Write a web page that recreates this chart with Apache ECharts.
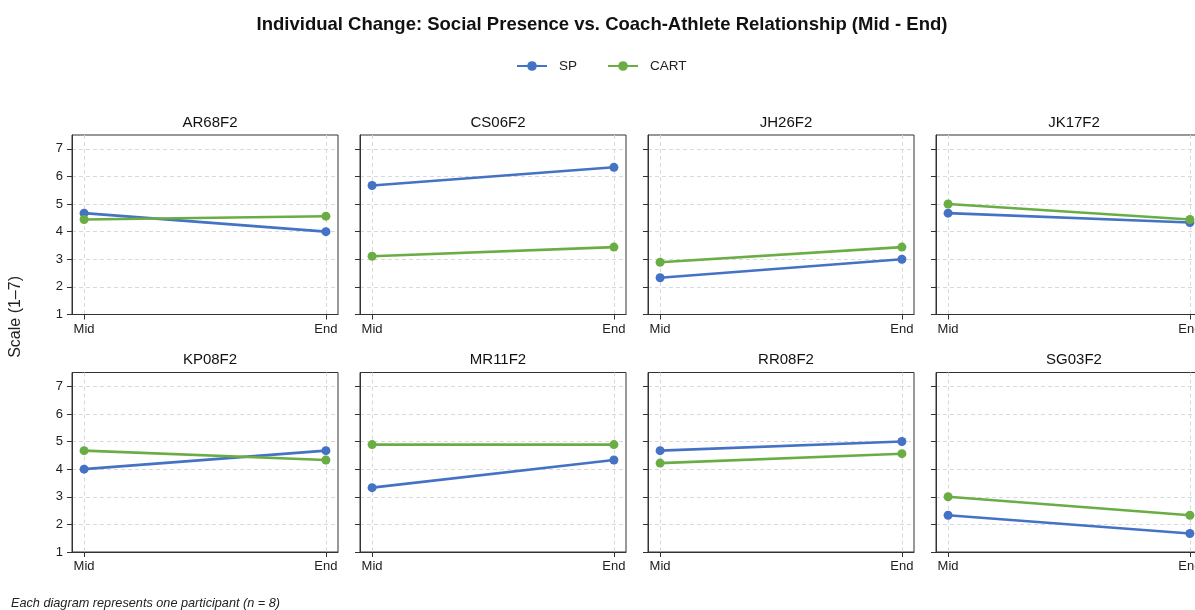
<!DOCTYPE html>
<html>
<head>
<meta charset="utf-8">
<script src="https://cdn.jsdelivr.net/npm/echarts@6/dist/echarts.min.js"></script>
<style>
html,body{margin:0;padding:0;background:#fff;overflow:hidden;width:1195px;height:610px;}
#chart{width:1225px;height:610px;}
</style>
</head>
<body>
<div id="chart"></div>
<script>
const participants = ['AR68F2','CS06F2','JH26F2','JK17F2','KP08F2','MR11F2','RR08F2','SG03F2'];
const stages = ['Mid','End'];
const spMid   = [4.67, 5.67, 2.33, 4.67, 4.00, 3.33, 4.67, 2.33];
const spEnd   = [4.00, 6.33, 3.00, 4.33, 4.67, 4.33, 5.00, 1.67];
const cartMid = [4.44, 3.11, 2.89, 5.00, 4.67, 4.89, 4.22, 3.00];
const cartEnd = [4.56, 3.44, 3.44, 4.44, 4.33, 4.89, 4.56, 2.33];
const yTicks = [1, 2, 3, 4, 5, 6, 7];

const SP_COLOR = '#4472C4';
const CART_COLOR = '#6AAD45';
const FONT = '"Liberation Sans", Arial, Helvetica, sans-serif';

const colLeft = [72, 360, 648, 936];
const rowTop = [135, 372.5];
const gw = 266, gh = 179.5;

const grids = [], xAxes = [], yAxes = [], series = [], titles = [];
participants.forEach((p, i) => {
  const r = Math.floor(i / 4), c = i % 4;
  grids.push({left: colLeft[c], top: rowTop[r], width: gw, height: gh,
    show: true, borderColor: '#333', borderWidth: 1, backgroundColor: 'transparent', containLabel: false});
  xAxes.push({
    type: 'value', gridIndex: i, min: -0.05, max: 1.05,
    axisLine: {show: true, onZero: false, lineStyle: {color: '#333', width: 1}},
    axisTick: {show: true, customValues: [0, 1], length: 5, lineStyle: {color: '#333'}},
    axisLabel: {show: true, customValues: [0, 1], formatter: v => stages[Math.round(v)],
      color: '#222', fontSize: 13, fontFamily: FONT, margin: 8},
    splitLine: {show: true, lineStyle: {color: '#d9d9d9', type: [4, 3], width: 1}}
  });
  yAxes.push({
    type: 'value', gridIndex: i, min: 1, max: 7.5,
    axisLine: {show: true, onZero: false, lineStyle: {color: '#333', width: 1}},
    axisTick: {show: true, customValues: yTicks, length: 5, lineStyle: {color: '#333'}},
    axisLabel: {show: c === 0, customValues: yTicks, color: '#222', fontSize: 13, fontFamily: FONT, margin: 9},
    splitLine: {show: true, lineStyle: {color: '#d9d9d9', type: [4, 3], width: 1}}
  });
  series.push({
    name: 'SP', type: 'line', xAxisIndex: i, yAxisIndex: i,
    data: [[0, spMid[i]], [1, spEnd[i]]],
    symbol: 'circle', symbolSize: 9, lineStyle: {width: 2.6, color: SP_COLOR},
    itemStyle: {color: SP_COLOR}, animation: false, z: 3
  });
  series.push({
    name: 'CART', type: 'line', xAxisIndex: i, yAxisIndex: i,
    data: [[0, cartMid[i]], [1, cartEnd[i]]],
    symbol: 'circle', symbolSize: 9, lineStyle: {width: 2.6, color: CART_COLOR},
    itemStyle: {color: CART_COLOR}, animation: false, z: 3
  });
  titles.push({
    text: p, left: colLeft[c] + gw / 2, top: rowTop[r] - 25, textAlign: 'center',
    textStyle: {fontSize: 15, fontWeight: 'normal', color: '#111', fontFamily: FONT}
  });
});

titles.unshift({
  text: 'Individual Change: Social Presence vs. Coach-Athlete Relationship (Mid - End)',
  left: 597, top: 10, textAlign: 'center',
  textStyle: {fontSize: 18.5, fontWeight: 'bold', color: '#111', fontFamily: FONT}
});

const chart = echarts.init(document.getElementById('chart'), null, {renderer: 'canvas'});
chart.setOption({
  animation: false,
  backgroundColor: '#fff',
  title: titles,
  legend: {
    data: ['SP', 'CART'], top: 54, left: 511, itemWidth: 30, itemHeight: 12, itemGap: 30,
    textStyle: {fontSize: 13.5, color: '#222', fontFamily: FONT, padding: [0, 0, 0, 7]}
  },
  grid: grids,
  xAxis: xAxes,
  yAxis: yAxes,
  series: series,
  graphic: [
    {type: 'text', left: 8, top: 276, rotation: Math.PI / 2,
      style: {text: 'Scale (1\u20137)', fontSize: 16, fill: '#222', fontFamily: FONT}},
    {type: 'text', left: 11, top: 597,
      style: {text: 'Each diagram represents one participant (n = 8)', fontSize: 12.7, fontStyle: 'italic', fill: '#222', fontFamily: FONT}}
  ]
});
</script>
</body>
</html>
